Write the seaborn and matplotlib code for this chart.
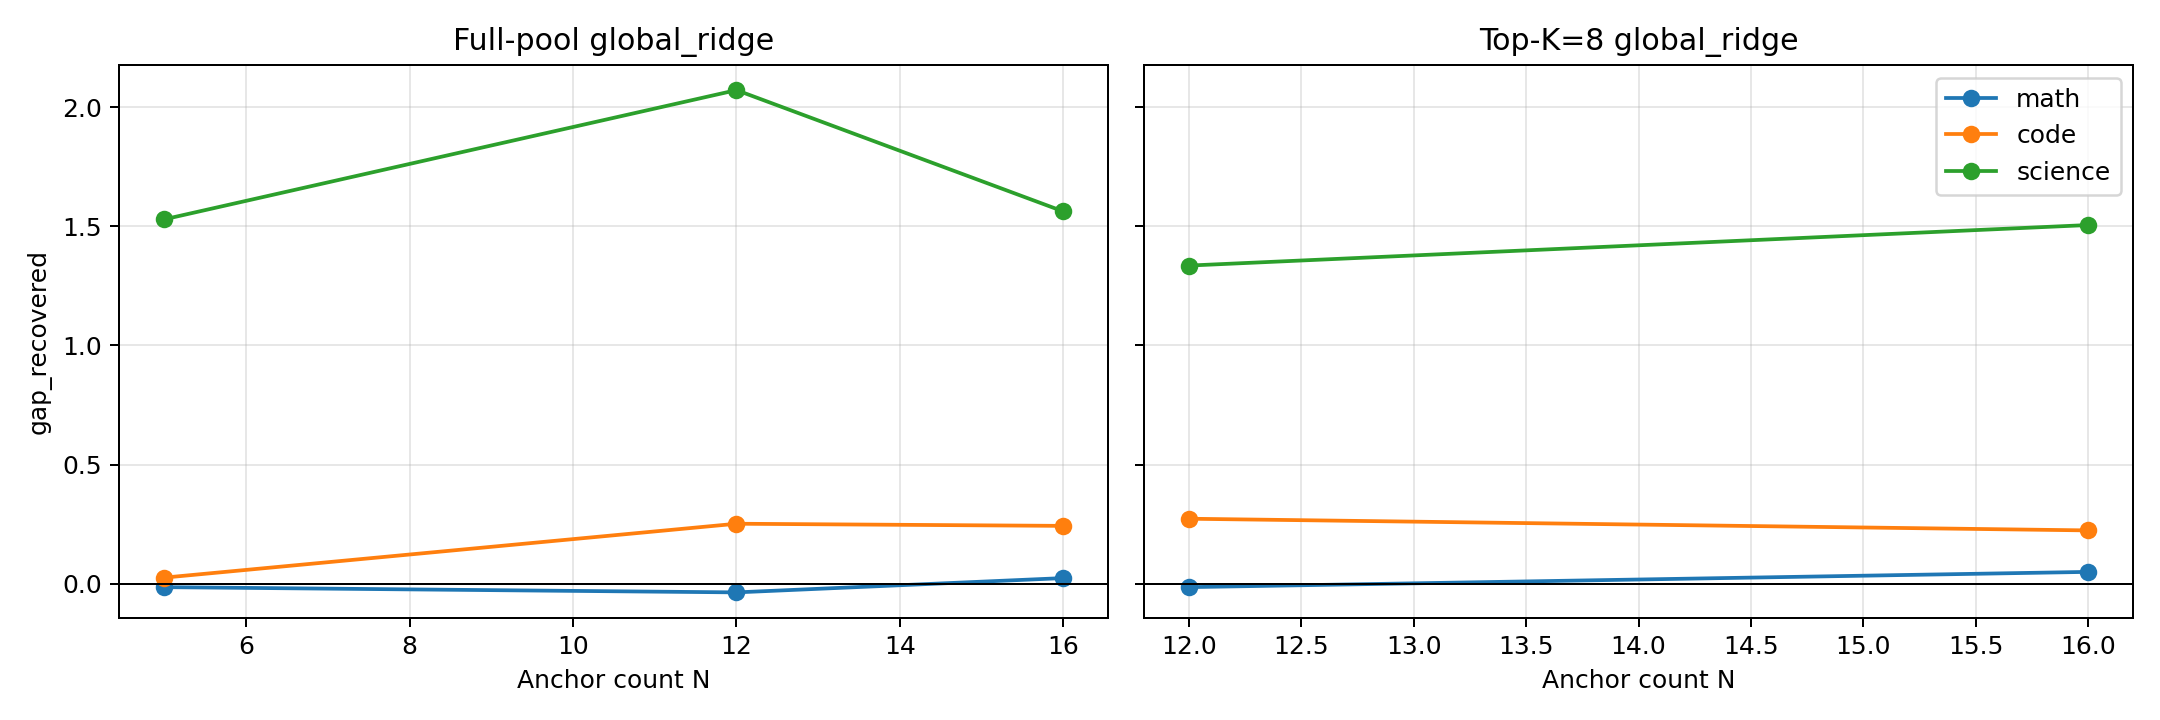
import matplotlib
matplotlib.use("Agg")
import matplotlib.pyplot as plt
import seaborn as sns
import pandas as pd

domains = ["math", "code", "science"]
colors = ["#1f77b4", "#ff7f0e", "#2ca02c"]

full_n = [5, 12, 16]
full_math = [-0.014, -0.036, 0.024]
full_code = [0.026, 0.252, 0.243]
full_science = [1.529, 2.071, 1.562]

topk_n = [12, 16]
topk_math = [-0.014, 0.050]
topk_code = [0.273, 0.224]
topk_science = [1.335, 1.505]


def make_df(ns, series):
    rows = []
    for dom, vals in zip(domains, series):
        for n, v in zip(ns, vals):
            rows.append({"N": n, "gap_recovered": v, "domain": dom})
    return pd.DataFrame(rows)


df_full = make_df(full_n, [full_math, full_code, full_science])
df_topk = make_df(topk_n, [topk_math, topk_code, topk_science])

fig, axes = plt.subplots(1, 2, figsize=(12, 4), dpi=180, sharey=True)

for ax, df, title, show_leg in [
    (axes[0], df_full, "Full-pool global_ridge", False),
    (axes[1], df_topk, "Top-K=8 global_ridge", True),
]:
    sns.lineplot(data=df, x="N", y="gap_recovered", hue="domain",
                 hue_order=domains, palette=colors, marker="o",
                 markersize=7, markeredgewidth=0, linewidth=1.5,
                 ax=ax, legend=show_leg)
    ax.axhline(0, color="black", linewidth=0.8)
    ax.grid(True, alpha=0.3)
    ax.set_title(title)
    ax.set_xlabel("Anchor count N")
    if show_leg:
        ax.legend(loc="upper right")

axes[0].set_ylabel("gap_recovered")
axes[1].set_ylabel("")

fig.tight_layout()
fig.savefig("out.png", dpi=180)
